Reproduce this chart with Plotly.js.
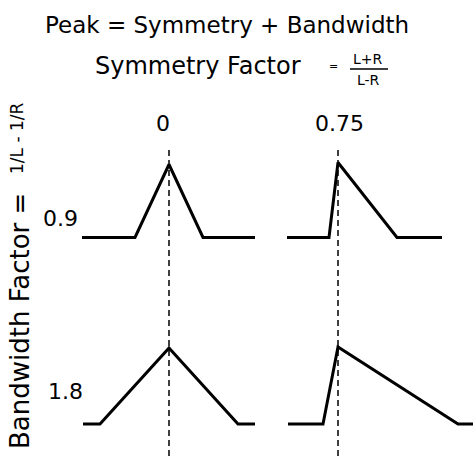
<!DOCTYPE html>
<html>
<head>
<meta charset="utf-8">
<script src="https://cdn.plot.ly/plotly-3.0.1.min.js"></script>
<style>html,body{margin:0;padding:0;background:#fff;}#chart{width:473px;height:456px;}</style>
</head>
<body>
<div id="chart"></div>
<script>
// Symmetry factor columns and bandwidth factor rows
var symmetryLabels = ["0", "0.75"];
var bandwidthLabels = ["0.9", "1.8"];

// Peak outlines (x relative to peak centre, y relative to baseline)
var peakSym0Bw09X   = [-8.7, -3.4, 0, 3.4, 8.6];
var peakSym0Bw09Y   = [0, 0, 7.3, 0, 0];
var peakSym75Bw09X  = [-5.1, -0.9, 0, 5.9, 10.4];
var peakSym75Bw09Y  = [0, 0, 7.5, 0, 0];
var peakSym0Bw18X   = [-8.6, -6.9, 0, 6.9, 8.6];
var peakSym0Bw18Y   = [0, 0, 7.6, 0, 0];
var peakSym75Bw18X  = [-5.0, -1.5, 0, 12.0, 13.5];
var peakSym75Bw18Y  = [0, 0, 7.7, 0, 0];

var lineStyle = {color: "#000", width: 3};
function tr(x, y, xa, ya) {
  return {x: x, y: y, xaxis: xa, yaxis: ya, mode: "lines", line: lineStyle,
          hoverinfo: "skip", showlegend: false};
}
var data = [
  tr(peakSym0Bw09X, peakSym0Bw09Y, "x", "y"),
  tr(peakSym75Bw09X, peakSym75Bw09Y, "x2", "y"),
  tr(peakSym0Bw18X, peakSym0Bw18Y, "x", "y2"),
  tr(peakSym75Bw18X, peakSym75Bw18Y, "x2", "y2")
];

var W = 473, H = 456;
function px(v) { return v / W; }
function py(v) { return 1 - v / H; }
var font = "DejaVu Sans, Verdana, sans-serif";
var ax = {showgrid: false, zeroline: false, showticklabels: false, ticks: "", showline: false, fixedrange: true};

function ann(text, xref, x, yref, y, size, extra) {
  return Object.assign({text: text, xref: xref, yref: yref, x: x, y: y,
    xanchor: "center", yanchor: "middle", showarrow: false,
    font: {family: font, size: size, color: "#000"}}, extra || {});
}

var layout = {
  width: W, height: H,
  margin: {l: 0, r: 0, t: 0, b: 0},
  paper_bgcolor: "#fff", plot_bgcolor: "#fff",
  showlegend: false,
  xaxis:  Object.assign({}, ax, {domain: [0, px(280)], range: [-16.9, 11.1]}),
  xaxis2: Object.assign({}, ax, {domain: [px(260), 1], range: [-7.8, 13.5]}),
  yaxis:  Object.assign({}, ax, {domain: [py(280), py(100)], range: [-4.25, 13.75]}),
  yaxis2: Object.assign({}, ax, {domain: [0, py(280)], range: [-3.2, 14.4]}),
  shapes: [
    {type: "line", xref: "x", yref: "paper", x0: 0, x1: 0, y0: 0, y1: py(147),
     line: {color: "#000", width: 1.5, dash: "6px,4px"}},
    {type: "line", xref: "x2", yref: "paper", x0: 0, x1: 0, y0: 0, y1: py(147),
     line: {color: "#000", width: 1.5, dash: "6px,4px"}},
    {type: "line", xref: "paper", yref: "paper", x0: px(350), x1: px(388), y0: py(69), y1: py(69),
     line: {color: "#000", width: 1.5}}
  ],
  annotations: [
    ann("Peak = Symmetry + Bandwidth", "paper", px(227), "paper", py(25), 23),
    ann("Symmetry Factor", "paper", px(93), "paper", py(66), 24, {xanchor: "left"}),
    ann("=", "paper", px(333), "paper", py(66), 11),
    ann("L+R", "paper", px(368), "paper", py(59), 14),
    ann("L-R", "paper", px(368), "paper", py(80), 14),
    ann(symmetryLabels[0], "x", -0.6, "paper", py(124), 22),
    ann(symmetryLabels[1], "x2", 0.1, "paper", py(124), 22),
    ann(bandwidthLabels[0], "paper", px(61), "paper", py(218), 22),
    ann(bandwidthLabels[1], "paper", px(65), "paper", py(391), 22),
    ann("Bandwidth Factor =", "paper", px(20), "paper", py(321), 26, {textangle: -90}),
    ann("1/L - 1/R", "paper", px(17), "paper", py(138), 17, {textangle: -90})
  ]
};
Plotly.newPlot("chart", data, layout, {staticPlot: true, displayModeBar: false});
</script>
</body>
</html>
